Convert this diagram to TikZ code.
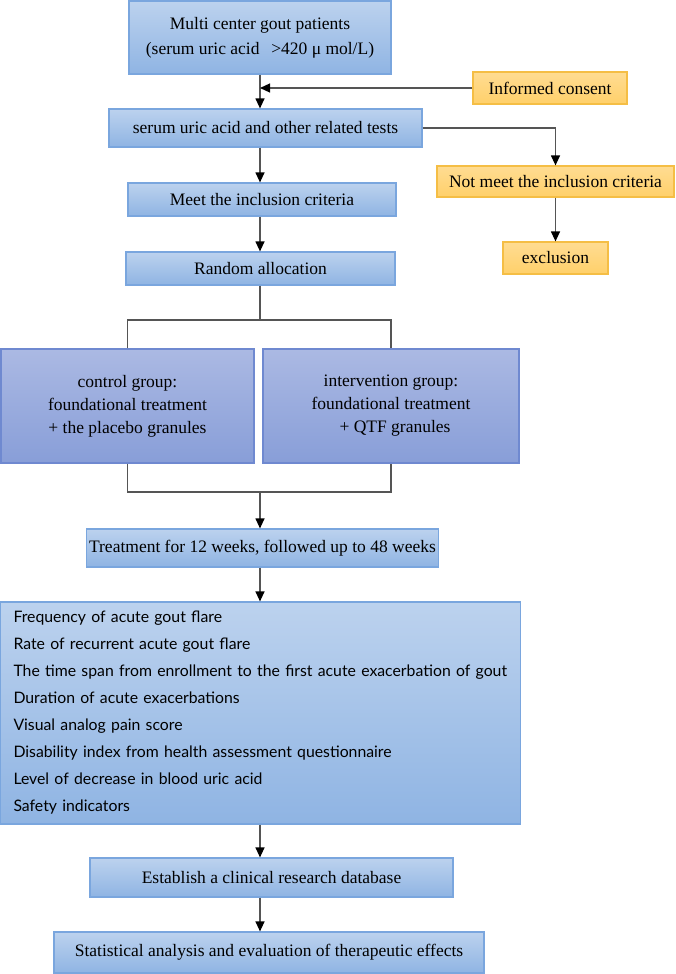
\documentclass[tikz,border=0pt]{standalone}
\usepackage{fontspec}
\setmainfont{Liberation Serif}
\newfontfamily\listafont{Lato}
\usetikzlibrary{arrows.meta}
\definecolor{azulArr}{HTML}{BCD2EE}
\definecolor{azulAb}{HTML}{8FB4E3}
\definecolor{azulBorde}{HTML}{7AA6DE}
\definecolor{lilaArr}{HTML}{ABB9E3}
\definecolor{lilaAb}{HTML}{889ED8}
\definecolor{lilaBorde}{HTML}{6F89D0}
\definecolor{naranjaArr}{HTML}{FFDC92}
\definecolor{naranjaAb}{HTML}{FFD06A}
\definecolor{naranjaBorde}{HTML}{F5BE45}
\definecolor{gris}{HTML}{555555}
\begin{document}
\begin{tikzpicture}[x=1pt, y=-1pt,
  caja/.style={draw=azulBorde, line width=1.2pt, top color=azulArr, bottom color=azulAb,
               align=center, font=\fontsize{17.5}{25}\selectfont, inner sep=0pt},
  grupo/.style={caja, draw=lilaBorde, top color=lilaArr, bottom color=lilaAb,
                font=\fontsize{17.5}{23}\selectfont},
  aviso/.style={caja, draw=naranjaBorde, top color=naranjaArr, bottom color=naranjaAb},
  flecha/.style={-{Triangle[length=10pt, width=9pt, color=black]}, gris, line width=1.2pt},
  linea/.style={gris, line width=1.2pt}]
  \useasboundingbox (0,0) rectangle (675,974);
  \coordinate (eje) at (260,0);
  \node[caja]  (pac)    at (260, 37.5)   [minimum width=262pt, minimum height=73pt]
    {Multi center gout patients\\(serum uric acid \ \,>420 μ mol/L)};
  \node[aviso] (cons)   at (550, 88)     [minimum width=154pt, minimum height=32pt] {Informed consent};
  \node[caja]  (prue)   at (265.5, 128)  [minimum width=313pt, minimum height=38pt]
    {serum uric acid and other related tests};
  \node[aviso] (nocum)  at (555.5, 181.5)[minimum width=237pt, minimum height=31pt]
    {Not meet the inclusion criteria};
  \node[aviso] (excl)   at (555.5, 258)  [minimum width=105pt, minimum height=32pt] {exclusion};
  \node[caja]  (cumple) at (262, 199.5)  [minimum width=268pt, minimum height=33pt] {Meet the inclusion criteria};
  \node[caja]  (azar)   at (260.5, 268.5)[minimum width=269pt, minimum height=33pt] {Random allocation};
  \node[grupo] (ctrl)   at (127.5, 406)  [minimum width=253pt, minimum height=114pt]
    {control group:\\foundational treatment\\+ the placebo granules};
  \node[grupo] (interv) at (391, 406)    [minimum width=256pt, minimum height=114pt]
    {intervention group:\\foundational treatment\\\hspace*{8pt}+ QTF granules};
  \node[caja]  (trat)   at (262.5, 548)  [minimum width=352pt, minimum height=38pt]
    {Treatment for 12 weeks, followed up to 48 weeks};
  \node[caja]  (medidas) at (260.5, 713) [minimum width=520pt, minimum height=222pt,
    text width=494pt, align=left, font=\listafont\fontsize{15.8}{27}\selectfont]
    {Frequency of acute gout flare\\
     Rate of recurrent acute gout flare\\
     The time span from enrollment to the first acute exacerbation of gout\\
     Duration of acute exacerbations\\
     Visual analog pain score\\
     Disability index from health assessment questionnaire\\
     Level of decrease in blood uric acid\\
     Safety indicators};
  \node[caja]  (base)   at (271.5, 877.5)[minimum width=363pt, minimum height=39pt]
    {Establish a clinical research database};
  \node[caja]  (anal)   at (269, 952.5)  [minimum width=430pt, minimum height=41pt]
    {Statistical analysis and evaluation of therapeutic effects};
  \coordinate (rama)  at (260, 320);
  \coordinate (junta) at (260, 492);
  \draw[flecha] (pac.south) -- (eje |- prue.north);
  \draw[flecha] (cons.west) -- (eje |- cons.west);
  \draw[flecha] (prue.east) -| (nocum.north);
  \draw[flecha] (nocum) -- (excl);
  \draw[flecha] (eje |- prue.south) -- (eje |- cumple.north);
  \draw[flecha] (eje |- cumple.south) -- (eje |- azar.north);
  \draw[linea] (eje |- azar.south) -- (rama);
  \draw[linea] (ctrl.north) |- (rama) -| (interv.north);
  \draw[linea] (ctrl.south) |- (junta) -| (interv.south);
  \draw[flecha] (junta) -- (eje |- trat.north);
  \draw[flecha] (eje |- trat.south) -- (eje |- medidas.north);
  \draw[flecha] (eje |- medidas.south) -- (eje |- base.north);
  \draw[flecha] (eje |- base.south) -- (eje |- anal.north);
\end{tikzpicture}
\end{document}
